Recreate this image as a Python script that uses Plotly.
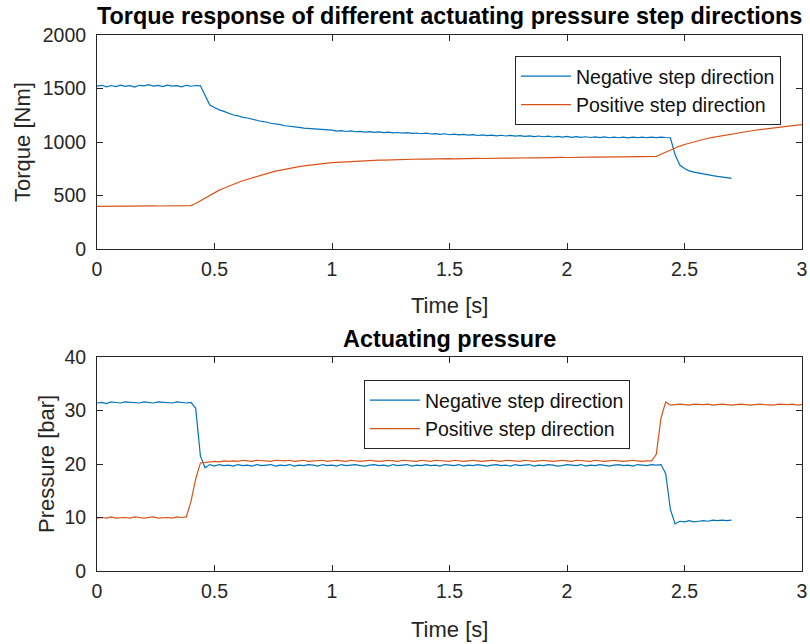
import plotly.graph_objects as go

# ---------------- data ----------------
TIME = [
    0.00, 0.02, 0.04, 0.06, 0.08, 0.10, 0.12, 0.14, 0.16, 0.18,
    0.20, 0.22, 0.24, 0.26, 0.28, 0.30, 0.32, 0.34, 0.36, 0.38,
    0.40, 0.42, 0.44, 0.46, 0.48, 0.50, 0.52, 0.54, 0.56, 0.58,
    0.60, 0.62, 0.64, 0.66, 0.68, 0.70, 0.72, 0.74, 0.76, 0.78,
    0.80, 0.82, 0.84, 0.86, 0.88, 0.90, 0.92, 0.94, 0.96, 0.98,
    1.00, 1.02, 1.04, 1.06, 1.08, 1.10, 1.12, 1.14, 1.16, 1.18,
    1.20, 1.22, 1.24, 1.26, 1.28, 1.30, 1.32, 1.34, 1.36, 1.38,
    1.40, 1.42, 1.44, 1.46, 1.48, 1.50, 1.52, 1.54, 1.56, 1.58,
    1.60, 1.62, 1.64, 1.66, 1.68, 1.70, 1.72, 1.74, 1.76, 1.78,
    1.80, 1.82, 1.84, 1.86, 1.88, 1.90, 1.92, 1.94, 1.96, 1.98,
    2.00, 2.02, 2.04, 2.06, 2.08, 2.10, 2.12, 2.14, 2.16, 2.18,
    2.20, 2.22, 2.24, 2.26, 2.28, 2.30, 2.32, 2.34, 2.36, 2.38,
    2.40, 2.42, 2.44, 2.46, 2.48, 2.50, 2.52, 2.54, 2.56, 2.58,
    2.60, 2.62, 2.64, 2.66, 2.68, 2.70, 2.72, 2.74, 2.76, 2.78,
    2.80, 2.82, 2.84, 2.86, 2.88, 2.90, 2.92, 2.94, 2.96, 2.98,
    3.00,
]

TORQUE_NEG = [
    1522, 1530, 1515, 1528, 1518, 1532, 1520, 1526, 1514, 1530,
    1524, 1536, 1522, 1529, 1518, 1531, 1523, 1527, 1516, 1530,
    1521, 1528, 1525, 1430, 1345, 1322, 1300, 1286, 1270, 1252,
    1245, 1230, 1224, 1210, 1203, 1192, 1187, 1175, 1170, 1162,
    1152, 1149, 1140, 1137, 1130, 1127, 1118, 1121, 1112, 1109,
    1111, 1102, 1106, 1098, 1103, 1096, 1100, 1093, 1097, 1090,
    1094, 1088, 1092, 1085, 1089, 1083, 1087, 1080, 1084, 1077,
    1082, 1075, 1079, 1072, 1077, 1068, 1074, 1066, 1071, 1064,
    1069, 1061, 1067, 1060, 1065, 1058, 1063, 1056, 1062, 1055,
    1060, 1052, 1058, 1050, 1056, 1049, 1055, 1047, 1053, 1046,
    1052, 1044, 1050, 1043, 1049, 1042, 1048, 1041, 1047, 1040,
    1046, 1040, 1046, 1039, 1045, 1040, 1046, 1040, 1045, 1041,
    1046, 1042, 1040, 880, 785, 752, 730, 718, 708, 700,
    692, 685, 678, 672, 666, 660,
]

TORQUE_POS = [
    398, 399, 398, 400, 399, 400, 401, 400, 401, 402,
    401, 402, 403, 402, 403, 404, 404, 405, 404, 405,
    406, 425, 450, 478, 505, 528, 550, 568, 588, 605,
    622, 638, 652, 666, 680, 693, 705, 716, 727, 737,
    746, 755, 763, 770, 777, 783, 789, 794, 799, 803,
    807, 810, 813, 816, 818, 821, 823, 825, 826, 828,
    830, 831, 833, 834, 835, 836, 837, 840, 838, 841,
    840, 842, 841, 843, 842, 844, 843, 845, 844, 846,
    845, 847, 846, 848, 847, 849, 848, 850, 849, 851,
    850, 852, 851, 853, 852, 854, 853, 855, 854, 856,
    855, 857, 856, 858, 857, 859, 858, 860, 859, 861,
    860, 861, 861, 862, 862, 863, 863, 864, 864, 866,
    885, 905, 925, 945, 962, 977, 990, 1002, 1013, 1024,
    1035, 1043, 1051, 1060, 1068, 1075, 1082, 1089, 1096, 1103,
    1110, 1116, 1122, 1127, 1132, 1137, 1142, 1147, 1152, 1157,
    1162,
]

PRESSURE_NEG = [
    31.4, 31.5, 31.3, 31.6, 31.5, 31.4, 31.6, 31.5, 31.5, 31.4,
    31.6, 31.5, 31.4, 31.6, 31.5, 31.5, 31.4, 31.6, 31.5, 31.4,
    31.5, 30.4, 21.5, 19.3, 19.9, 19.6, 19.9, 19.7, 19.8, 19.6,
    19.9, 19.7, 19.8, 19.6, 19.9, 19.7, 19.8, 19.9, 19.6, 19.8,
    19.7, 19.9, 19.6, 19.8, 19.7, 19.9, 19.8, 19.6, 19.9, 19.7,
    19.8, 19.6, 19.9, 19.7, 19.8, 19.9, 19.7, 19.6, 19.8, 19.9,
    19.7, 19.8, 19.6, 19.9, 19.7, 19.8, 19.9, 19.6, 19.8, 19.7,
    19.9, 19.7, 19.8, 19.6, 19.9, 19.8, 19.7, 19.9, 19.6, 19.8,
    19.7, 19.9, 19.8, 19.6, 19.8, 19.9, 19.7, 19.8, 19.6, 19.9,
    19.7, 19.8, 19.9, 19.6, 19.8, 19.7, 19.9, 19.8, 19.6, 19.7,
    19.9, 19.8, 19.7, 19.9, 19.6, 19.8, 19.7, 19.9, 19.8, 19.6,
    19.8, 19.9, 19.7, 19.8, 19.6, 19.9, 19.8, 19.7, 19.9, 19.8,
    19.9, 18.2, 11.5, 8.8, 9.3, 9.2, 9.4, 9.2, 9.3, 9.4,
    9.3, 9.5, 9.4, 9.5, 9.4, 9.5,
]

PRESSURE_POS = [
    9.9, 10.0, 9.9, 10.1, 9.9, 10.0, 10.0, 9.9, 10.1, 10.0,
    9.9, 10.0, 10.1, 9.9, 10.0, 10.0, 9.9, 10.1, 10.0, 10.1,
    13.0, 17.2, 20.2, 20.3, 20.4, 20.5, 20.4, 20.6, 20.5, 20.6,
    20.5, 20.7, 20.6, 20.5, 20.7, 20.6, 20.6, 20.5, 20.7, 20.6,
    20.6, 20.7, 20.5, 20.6, 20.7, 20.5, 20.6, 20.6, 20.7, 20.5,
    20.6, 20.7, 20.6, 20.5, 20.7, 20.6, 20.5, 20.6, 20.7, 20.6,
    20.5, 20.6, 20.7, 20.6, 20.5, 20.7, 20.6, 20.6, 20.5, 20.7,
    20.6, 20.5, 20.7, 20.6, 20.6, 20.5, 20.7, 20.6, 20.5, 20.6,
    20.7, 20.6, 20.5, 20.6, 20.7, 20.6, 20.5, 20.7, 20.6, 20.6,
    20.5, 20.7, 20.6, 20.5, 20.6, 20.7, 20.6, 20.5, 20.6, 20.7,
    20.6, 20.5, 20.7, 20.6, 20.6, 20.5, 20.7, 20.6, 20.5, 20.6,
    20.7, 20.6, 20.5, 20.6, 20.7, 20.6, 20.5, 20.6, 20.6, 21.8,
    28.6, 31.6, 31.0, 31.1, 31.2, 31.1, 31.0, 31.2, 31.1, 31.1,
    31.2, 31.0, 31.1, 31.2, 31.1, 31.0, 31.1, 31.2, 31.1, 31.0,
    31.1, 31.2, 31.1, 31.1, 31.0, 31.2, 31.1, 31.1, 31.2, 31.0,
    31.1,
]

SERIES_NAMES = ["Negative step direction", "Positive step direction"]
X_TICKS = [0, 0.5, 1, 1.5, 2, 2.5, 3]
TORQUE_TICKS = [0, 500, 1000, 1500, 2000]
PRESSURE_TICKS = [0, 10, 20, 30, 40]

# ---------------- style ----------------
W, H = 810, 644
BLUE = "#0072BD"
ORANGE = "#D95319"
AX = "#262626"
FONT = "Liberation Sans"
TICK_SIZE = 19.5
LABEL_SIZE = 22
TITLE_SIZE = 23.4

L, R = 97, 802
TOP1, BOT1 = 35, 249
TOP2, BOT2 = 357, 571


def px(x):
    return x / W


def py(y):
    return 1 - y / H


fig = go.Figure()

fig.add_trace(go.Scatter(x=TIME[:len(TORQUE_NEG)], y=TORQUE_NEG, mode="lines",
                         name=SERIES_NAMES[0], line=dict(color=BLUE, width=1.2),
                         xaxis="x", yaxis="y", legend="legend", legendgroup="a"))
fig.add_trace(go.Scatter(x=TIME[:len(TORQUE_POS)], y=TORQUE_POS, mode="lines",
                         name=SERIES_NAMES[1], line=dict(color=ORANGE, width=1.2),
                         xaxis="x", yaxis="y", legend="legend", legendgroup="b"))
fig.add_trace(go.Scatter(x=TIME[:len(PRESSURE_NEG)], y=PRESSURE_NEG, mode="lines",
                         name=SERIES_NAMES[0], line=dict(color=BLUE, width=1.2),
                         xaxis="x2", yaxis="y2", legend="legend2", legendgroup="c"))
fig.add_trace(go.Scatter(x=TIME[:len(PRESSURE_POS)], y=PRESSURE_POS, mode="lines",
                         name=SERIES_NAMES[1], line=dict(color=ORANGE, width=1.2),
                         xaxis="x2", yaxis="y2", legend="legend2", legendgroup="d"))

axis_common = dict(
    showline=True, linecolor=AX, linewidth=1, mirror="ticks",
    ticks="inside", ticklen=6, tickwidth=1, tickcolor=AX,
    showgrid=False, zeroline=False, automargin=False,
    tickfont=dict(family=FONT, size=TICK_SIZE, color=AX),
)
xaxis_extra = dict(ticklabelstandoff=3)
yaxis_extra = dict(ticklabelstandoff=6)

legend_common = dict(
    bgcolor="white", bordercolor=AX, borderwidth=1,
    font=dict(family=FONT, size=TICK_SIZE, color="#111111"),
    xanchor="left", yanchor="top", tracegroupgap=0, itemwidth=50,
)

fig.update_layout(
    width=W, height=H,
    margin=dict(l=0, r=0, t=0, b=0, autoexpand=False),
    paper_bgcolor="white", plot_bgcolor="white",
    showlegend=True,
    xaxis=dict(domain=[px(L), px(R)], range=[0, 3], tickvals=X_TICKS,
               anchor="y", **axis_common, **xaxis_extra),
    yaxis=dict(domain=[py(BOT1), py(TOP1)], range=[0, 2000], tickvals=TORQUE_TICKS,
               anchor="x", **axis_common, **yaxis_extra),
    xaxis2=dict(domain=[px(L), px(R)], range=[0, 3], tickvals=X_TICKS,
                anchor="y2", **axis_common, **xaxis_extra),
    yaxis2=dict(domain=[py(BOT2), py(TOP2)], range=[0, 40], tickvals=PRESSURE_TICKS,
                anchor="x2", **axis_common, **yaxis_extra),
    legend=dict(x=px(515), y=py(56), **legend_common),
    legend2=dict(x=px(364), y=py(380), **legend_common),
)

annotations = [
    dict(text="<b>Torque response of different actuating pressure step directions</b>",
         x=px((L + R) / 2), y=py(16), size=TITLE_SIZE, angle=0),
    dict(text="<b>Actuating pressure</b>", x=px((L + R) / 2), y=py(339),
         size=TITLE_SIZE, angle=0),
    dict(text="Time [s]", x=px((L + R) / 2), y=py(305), size=LABEL_SIZE, angle=0),
    dict(text="Time [s]", x=px((L + R) / 2), y=py(629), size=LABEL_SIZE, angle=0),
    dict(text="Torque [Nm]", x=px(22), y=py((TOP1 + BOT1) / 2), size=LABEL_SIZE, angle=-90),
    dict(text="Pressure [bar]", x=px(46), y=py((TOP2 + BOT2) / 2), size=LABEL_SIZE, angle=-90),
]
for a in annotations:
    fig.add_annotation(
        text=a["text"], x=a["x"], y=a["y"], xref="paper", yref="paper",
        xanchor="center", yanchor="middle", showarrow=False, textangle=a["angle"],
        font=dict(family=FONT, size=a["size"], color="#000000" if "<b>" in a["text"] else AX),
    )

fig.write_html("out.html")
